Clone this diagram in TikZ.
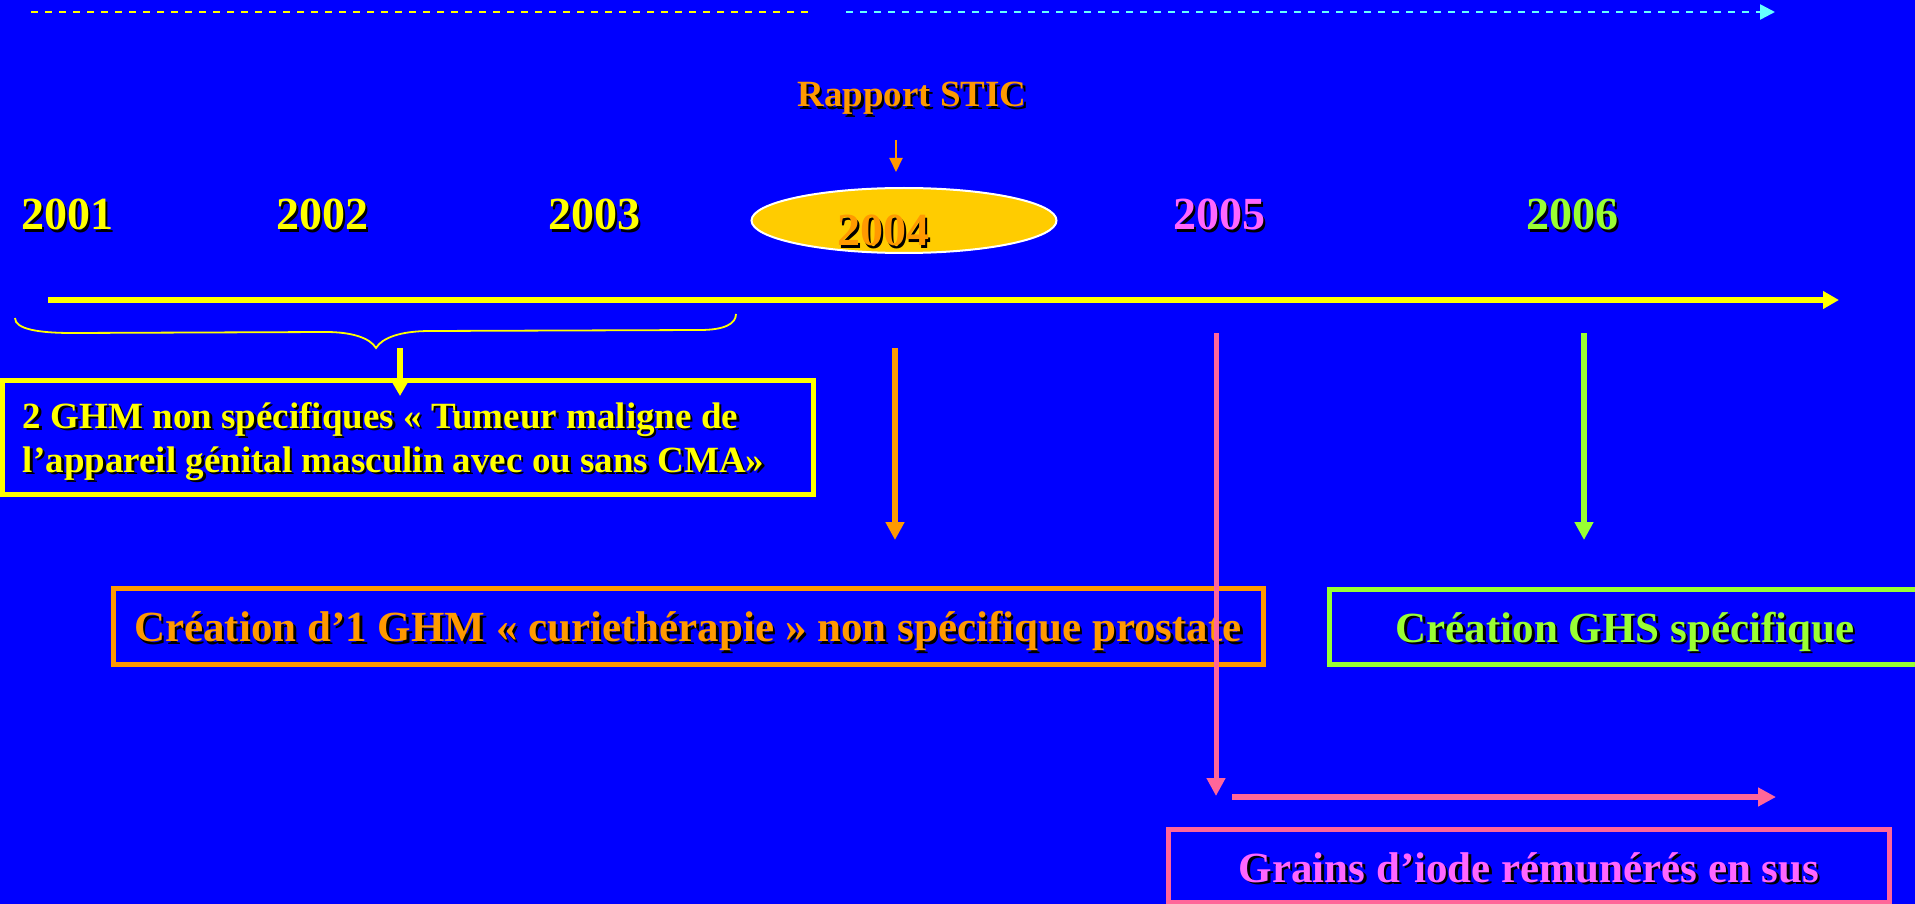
\documentclass[tikz,border=0pt]{standalone}
\usepackage{fontspec}
\setmainfont{Liberation Serif}
\usetikzlibrary{arrows.meta,shapes.geometric}
\definecolor{bgblue}{HTML}{0000FF}
\definecolor{ylw}{HTML}{FFFF00}
\definecolor{org}{HTML}{FF9900}
\definecolor{gold}{HTML}{FFCC00}
\definecolor{grn}{HTML}{99FF33}
\definecolor{pnk}{HTML}{FF66FF}
\definecolor{pnkline}{HTML}{FF6699}
\definecolor{cyn}{HTML}{66FFFF}
\newcommand\shtxt[2]{\leavevmode\rlap{\kern2.5pt\raisebox{-2.5pt}{\color{black}#2}}{\color{#1}#2}}
\begin{document}
\begin{tikzpicture}[x=1pt,y=-1pt,
  txt/.style={inner sep=0pt, outer sep=0pt},
  yearlbl/.style={txt, anchor=base, font=\bfseries\fontsize{46}{50}\selectfont},
  bigtxt/.style={font=\bfseries\fontsize{43}{48}\selectfont},
  framebox/.style={draw=#1, line width=5pt, inner sep=0pt, text depth=0pt},
  conn/.style={line width=#1},
  downtip/.style={-{Triangle[length=18pt,width=18pt]}},
  topdash/.style={line width=2.5pt, dash pattern=on 7pt off 7pt}
]
\useasboundingbox (0,0) rectangle (1915,904);
\fill[bgblue] (0,0) rectangle (1915,904);
\clip (0,0) rectangle (1915,904);

% top dashed lines
\coordinate (d1a) at (31,12);
\coordinate (d1b) at (808,12);
\coordinate (d2a) at (846,12);
\coordinate (d2b) at (1775,12);
\draw[ylw, topdash] (d1a) -- (d1b);
\draw[cyn, topdash, -{Triangle[length=15pt,width=15pt]}] (d2a) -- (d2b);

% Rapport STIC
\node[txt, anchor=base, font=\bfseries\fontsize{37}{42}\selectfont] (stic) at (912,107) {\shtxt{org}{Rapport STIC}};
\coordinate (sticA) at (896,140);
\coordinate (sticB) at (896,172);
\draw[org, conn=2pt, -{Triangle[length=14pt,width=13pt]}] (sticA) -- (sticB);

% ellipse 2004
\node[ellipse, draw=white, fill=gold, line width=2pt, minimum width=305pt, minimum height=65pt, inner sep=0pt] (ell) at (904,220.5) {};
\node[yearlbl] (y2004) at (883,246) {\shtxt{org}{2004}};

% years
\node[yearlbl] (y2001) at (67,230) {\shtxt{ylw}{2001}};
\node[yearlbl] (y2002) at (322,230) {\shtxt{ylw}{2002}};
\node[yearlbl] (y2003) at (594,230) {\shtxt{ylw}{2003}};
\node[yearlbl] (y2005) at (1219,230) {\shtxt{pnk}{2005}};
\node[yearlbl] (y2006) at (1572,230) {\shtxt{grn}{2006}};

% timeline
\coordinate (tl0) at (48,300);
\coordinate (tl1) at (1839,300);
\draw[ylw, conn=6pt, -{Triangle[length=16pt,width=17pt]}] (tl0) -- (tl1);

% brace
\draw[ylw, line width=1.8pt] (15,318) .. controls (15,329) and (38,333) .. (72,333)
  -- (326,332) .. controls (352,332) and (370,338) .. (376,348)
  .. controls (382,338) and (400,331) .. (430,331)
  -- (700,330) .. controls (724,330) and (736,324) .. (736,314);

% boxes
\node[framebox=ylw, minimum width=811pt, minimum height=114pt] (ghmbox) at (408,437.5) {};
\node[txt, anchor=base west, align=left, font=\bfseries\fontsize{37}{44}\selectfont] (ghmtxt) at (23,472)
  {\shtxt{ylw}{2 GHM non spécifiques « Tumeur maligne de}\\\shtxt{ylw}{l’appareil génital masculin avec ou sans CMA»}};

\node[framebox=org, bigtxt, minimum width=1150pt, minimum height=76pt, text height=30pt] (curie) at (688,626.5)
  {\shtxt{org}{Création d’1 GHM « curiethérapie » non spécifique prostate}};

\node[framebox=grn, bigtxt, minimum width=592pt, minimum height=75pt, text height=30pt] (ghs) at (1625,627)
  {\shtxt{grn}{Création GHS spécifique}};

\node[framebox=pnkline, bigtxt, minimum width=721pt, minimum height=73pt, text height=33pt] (grains) at (1529,865.5)
  {\shtxt{pnk}{Grains d’iode rémunérés en sus}};

% arrows
\coordinate (brA) at (400,348);
\coordinate (brB) at (400,396);
\draw[ylw, conn=6pt, -{Triangle[length=13pt,width=14pt]}] (brA) -- (brB);

\coordinate (oA) at (895,348);
\coordinate (oB) at (895,540);
\draw[org, conn=6pt, downtip] (oA) -- (oB);

\coordinate (gA) at (1584,333);
\coordinate (gB) at (1584,540);
\draw[grn, conn=6pt, downtip] (gA) -- (gB);

\coordinate (pA) at (1216,333);
\coordinate (pB) at (1216,796);
\draw[pnkline, conn=5pt, downtip] (pA) -- (pB);

\coordinate (hA) at (1232,797);
\coordinate (hB) at (1776,797);
\draw[pnkline, conn=6pt, downtip] (hA) -- (hB);
\end{tikzpicture}
\end{document}
